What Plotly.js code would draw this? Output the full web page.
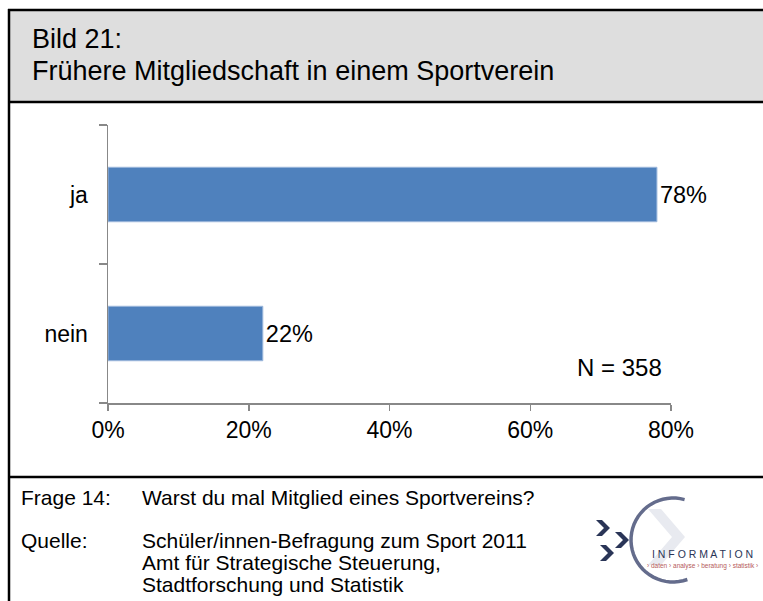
<!DOCTYPE html>
<html><head><meta charset="utf-8">
<script src="https://cdn.plot.ly/plotly-3.0.1.min.js"></script>
<style>html,body{margin:0;padding:0;background:#fff}#chart{width:763px;height:601px}</style>
</head><body><div id="chart"></div>
<script>
// ---- data ----
const categories = ["nein", "ja"];
const shares = [0.22, 0.78];
const xTickValues = [0, 0.2, 0.4, 0.6, 0.8];
const xTickLabels = ["0%", "20%", "40%", "60%", "80%"];
const titleLine1 = "Bild 21:";
const titleLine2 = "Frühere Mitgliedschaft in einem Sportverein";
const sampleNote = "N = 358";
const questionLabel = "Frage 14:";
const questionText = "Warst du mal Mitglied eines Sportvereins?";
const sourceLabel = "Quelle:";
const sourceLines = ["Schüler/innen-Befragung zum Sport 2011", "Amt für Strategische Steuerung,", "Stadtforschung und Statistik"];

// ---- pixel helpers (plot area in px) ----
const L = 108, R = 671, T = 125, B = 403;
const px = x => (x - L) / (R - L);
const py = y => (B - y) / (B - T);
const FONT = '"Liberation Sans", Arial, sans-serif';

function polyPath(pts, close) {
  return pts.map((p, i) => (i ? 'L' : 'M') + px(p[0]).toFixed(5) + ',' + py(p[1]).toFixed(5)).join(' ') + (close ? ' Z' : '');
}
function chevron(cx, cy) {
  return polyPath([[cx-7,cy-8],[cx-1,cy-8],[cx+7,cy],[cx-1,cy+8],[cx-7,cy+8],[cx+1,cy]], true);
}
// logo arc points
const arcPts = [];
const cxA = 673, cyA = 540, rA = 42;
for (let a = -74; a >= -290; a -= 6) {
  const t = a * Math.PI / 180;
  arcPts.push([cxA + rA * Math.cos(t), cyA + rA * Math.sin(t)]);
}

const shapes = [
  {type:'rect', xref:'paper', yref:'paper', x0:px(9), x1:px(775), y0:py(10), y1:py(102), fillcolor:'#dedede', line:{width:0}, layer:'below'},
  {type:'line', xref:'paper', yref:'paper', x0:px(8), x1:px(775), y0:py(10), y1:py(10), line:{color:'#000', width:2.5}},
  {type:'line', xref:'paper', yref:'paper', x0:px(9), x1:px(9), y0:py(9), y1:py(620), line:{color:'#000', width:2.5}},
  {type:'line', xref:'paper', yref:'paper', x0:px(8), x1:px(775), y0:py(102), y1:py(102), line:{color:'#000', width:2.5}},
  {type:'line', xref:'paper', yref:'paper', x0:px(8), x1:px(775), y0:py(477), y1:py(477), line:{color:'#000', width:2.5}},
  // logo
  {type:'path', xref:'paper', yref:'paper', path:polyPath([[648,509],[661,509],[685,537],[661,565],[648,565],[672,537]], true), fillcolor:'#e8eaf0', line:{width:0}},
  {type:'path', xref:'paper', yref:'paper', path:polyPath(arcPts, false), line:{color:'#646c8c', width:3.5}},
  {type:'path', xref:'paper', yref:'paper', path:chevron(603, 528), fillcolor:'#2a3557', line:{width:0}},
  {type:'path', xref:'paper', yref:'paper', path:chevron(622, 540), fillcolor:'#2a3557', line:{width:0}},
  {type:'path', xref:'paper', yref:'paper', path:chevron(607, 553), fillcolor:'#2a3557', line:{width:0}}
];

function ann(text, x, y, size, opts) {
  return Object.assign({xref:'paper', yref:'paper', x:px(x), y:py(y), text:text, showarrow:false,
    xanchor:'left', yanchor:'middle', align:'left', font:{family:FONT, size:size, color:'#000'}}, opts || {});
}

const annotations = [
  ann(titleLine1, 30, 39.5, 27),
  ann(titleLine2, 30, 70.5, 27),
  ann(sampleNote, 619, 367, 24, {xanchor:'center'}),
  ann(questionLabel, 19, 497, 21),
  ann(questionText, 140, 497, 21),
  ann(sourceLabel, 19, 540, 21),
  ann(sourceLines[0], 140, 540, 21),
  ann(sourceLines[1], 140, 562, 21),
  ann(sourceLines[2], 140, 584, 21),
  ann('I N F O R M A T I O N', 702, 554, 10.5, {xanchor:'center', font:{family:FONT, size:10.5, color:'#2a3557'}}),
  ann('› daten › analyse › beratung › statistik ›', 702, 566, 6.5, {xanchor:'center', font:{family:FONT, size:6.5, color:'#b55a5a'}})
];

const trace = {
  type:'bar', orientation:'h', x:shares, y:categories,
  marker:{color:'#4f81bd', line:{color:'#9db8dc', width:1}},
  texttemplate:'%{x:.0%}', textposition:'outside', cliponaxis:false,
  textfont:{family:FONT, size:23.5, color:'#000'},
  hoverinfo:'skip'
};

const layout = {
  width:763, height:601,
  margin:{l:L, r:763-R, t:T, b:601-B, pad:0},
  paper_bgcolor:'#fff', plot_bgcolor:'#fff',
  showlegend:false, bargap:0.608,
  font:{family:FONT, color:'#000'},
  xaxis:{range:[0,0.8], tickvals:xTickValues, ticktext:xTickLabels, ticks:'outside', ticklen:6, tickwidth:1.5,
    tickcolor:'#888', showline:true, linecolor:'#888', linewidth:1.5, showgrid:false, zeroline:false,
    tickfont:{family:FONT, size:23, color:'#000'}, fixedrange:true},
  yaxis:{type:'category', categoryorder:'array', categoryarray:categories, tickson:'boundaries', ticks:'outside',
    ticklen:8, tickwidth:1.5, tickcolor:'#888', showline:true, linecolor:'#888', linewidth:1.5, showgrid:false,
    zeroline:false, tickfont:{family:FONT, size:23, color:'#000'}, ticklabelstandoff:14, fixedrange:true},
  shapes:shapes, annotations:annotations
};

Plotly.newPlot('chart', [trace], layout, {displayModeBar:false, staticPlot:true});
</script></body></html>
